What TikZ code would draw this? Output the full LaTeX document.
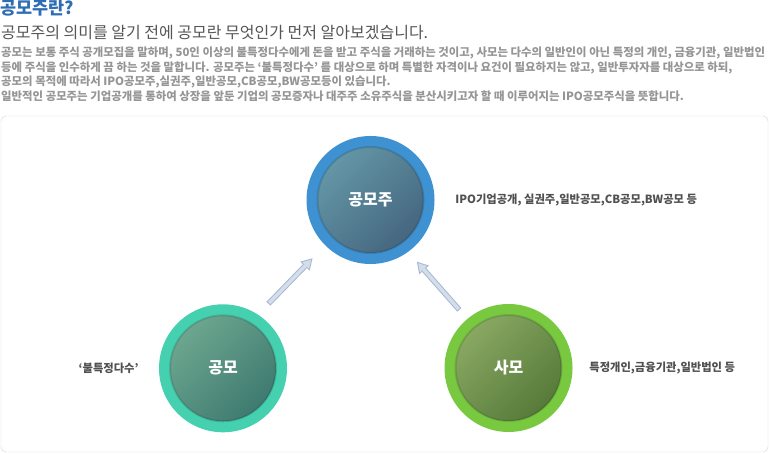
\documentclass[tikz,border=0pt]{standalone}
\usepackage{fontspec}
\setmainfont{Noto Sans CJK KR}
\usepackage{tikz}
\usetikzlibrary{positioning, arrows.meta}

\definecolor{titleblue}{HTML}{2C6DB4}
\definecolor{leadgray}{HTML}{555555}
\definecolor{bodygray}{HTML}{959595}
\definecolor{labgray}{HTML}{505050}
\definecolor{boxline}{HTML}{D4D4D4}
\definecolor{ringju}{HTML}{3E92D2}
\definecolor{juhi}{HTML}{6396A6}
\definecolor{julo}{HTML}{45667F}
\definecolor{ringgong}{HTML}{45D0B0}
\definecolor{gonghi}{HTML}{6CA68F}
\definecolor{gonglo}{HTML}{3E7A70}
\definecolor{ringsa}{HTML}{78C940}
\definecolor{sahi}{HTML}{88A862}
\definecolor{salo}{HTML}{577A3A}
\definecolor{arrline}{HTML}{A5B8CE}
\definecolor{arrfill}{HTML}{D3DEEA}

\begin{document}
\begin{tikzpicture}[x=1pt, y=1pt,
        ring/.style={circle, minimum size=128pt, inner sep=0pt},
        disk/.style 2 args={circle, minimum size=106pt, inner sep=0pt, top color=#1, bottom color=#2, shading angle=45, draw=black, draw opacity=0.12, line width=2pt, text=white, font=\fontsize{16}{16}\selectfont\bfseries},
        bodyline/.style={anchor=base west, inner sep=0pt, text=bodygray, font=\fontsize{11.4}{12}\selectfont\bfseries},
        lab/.style={inner sep=0pt, text=labgray, font=\fontsize{11.3}{12}\selectfont\bfseries},
        arrout/.style={line width=5.5pt, arrline, -{Triangle[length=11pt, width=13pt, line width=0pt]}},
        arrin/.style={line width=3.5pt, arrfill, -{Triangle[length=8pt, width=9.5pt, line width=0pt]}}]
        \useasboundingbox (0,0) rectangle (770,454);
        %---------------------------
        \node[anchor=base west, inner sep=0pt, text=titleblue, font=\fontsize{17.5}{17.5}\selectfont\bfseries] (title) at (0,439) {공모주란?};
        \node[anchor=base west, inner sep=0pt, text=leadgray, font=\fontsize{16}{16}\selectfont] (lead) at (1,415) {공모주의 의미를 알기 전에 공모란 무엇인가 먼저 알아보겠습니다.};
        \node[bodyline] (body1) at (1,397.7) {공모는 보통 주식 공개모집을 말하며, 50인 이상의 불특정다수에게 돈을 받고 주식을 거래하는 것이고, 사모는 다수의 일반인이 아닌 특정의 개인, 금융기관, 일반법인};
        \node[bodyline] (body2) at ([yshift=-14.8pt]body1.base west) {등에 주식을 인수하게 끔 하는 것을 말합니다.  공모주는 ‘불특정다수’ 를 대상으로 하며 특별한 자격이나 요건이 필요하지는 않고, 일반투자자를 대상으로 하되,};
        \node[bodyline] (body3) at ([yshift=-14.8pt]body2.base west) {공모의 목적에 따라서 IPO공모주,실권주,일반공모,CB공모,BW공모등이 있습니다.};
        \node[bodyline] (body4) at ([yshift=-14.8pt]body3.base west) {일반적인 공모주는 기업공개를 통하여 상장을 앞둔 기업의 공모증자나 대주주 소유주식을 분산시키고자 할 때 이루어지는 IPO공모주식을 뜻합니다.};
        %---------------------------
        \draw[boxline, rounded corners=5pt] (1,2) rectangle (768,338);
        \node[ring, fill=ringju] (gongmoju) at (370.5,254) {};
        \node[disk={juhi}{julo}] (gongmojuIn) at (gongmoju) {공모주};
        \node[ring, fill=ringgong] (gongmo) at (223,85.7) {};
        \node[disk={gonghi}{gonglo}] (gongmoIn) at (gongmo) {공모};
        \node[ring, fill=ringsa] (samo) at (508.5,86) {};
        \node[disk={sahi}{salo}] (samoIn) at (samo) {사모};
        %---------------------------
        \node[lab, right=20.5pt of gongmoju] (descju) {IPO기업공개, 실권주,일반공모,CB공모,BW공모 등};
        \node[lab, left=20pt of gongmo] (descgong) {‘불특정다수’};
        \node[lab, right=16.5pt of samo] (descsa) {특정개인,금융기관,일반법인 등};
        %--------------------------
        \draw[arrout, shorten <=15pt, shorten >=18pt] (gongmo.57) -- (gongmoju.225);
        \draw[arrin, shorten <=16pt, shorten >=20pt] (gongmo.57) -- (gongmoju.225);
        \draw[arrout, shorten <=12pt, shorten >=13pt] (samo.130) -- (gongmoju.306);
        \draw[arrin, shorten <=13pt, shorten >=15pt] (samo.130) -- (gongmoju.306);
\end{tikzpicture}
\end{document}
